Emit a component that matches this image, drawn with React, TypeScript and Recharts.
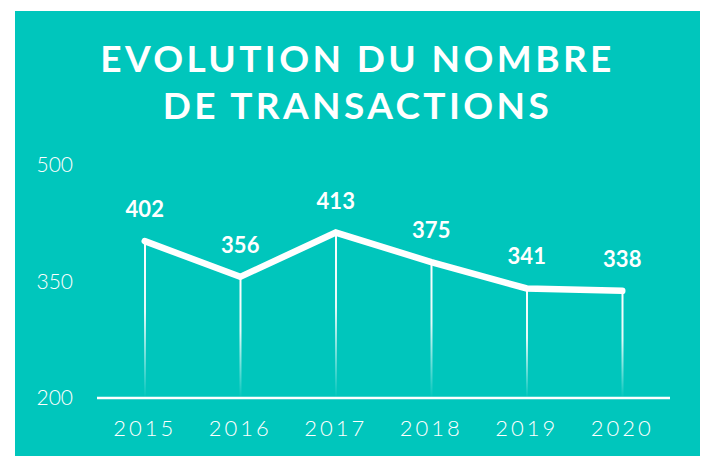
import React from 'react';
import { Bar, ComposedChart, LabelList, Line, XAxis, YAxis } from 'recharts';

const years = ['2015', '2016', '2017', '2018', '2019', '2020'];
const transactions = [402, 356, 413, 375, 341, 338];
const yTicks = [200, 350, 500];

const data = years.map((year, i) => ({ year, value: transactions[i] }));

const TEAL = '#00C6BC';
const FONT = 'Lato, "Open Sans", sans-serif';

export default function App() {
  return (
    <div style={{ position: 'absolute', left: 0, top: 0, width: 702, height: 456, background: '#fff', overflow: 'hidden' }}>
      <div style={{ position: 'absolute', left: 15, top: 11, width: 685, height: 445, background: TEAL }} />

      {/* Title */}
      <div
        style={{
          position: 'absolute',
          left: 15,
          top: 34,
          width: 685,
          textAlign: 'center',
          color: '#fff',
          fontFamily: FONT,
          fontWeight: 700,
          fontSize: 37,
          lineHeight: '47px',
          letterSpacing: 3.4,
        }}
      >
        EVOLUTION DU NOMBRE
        <br />
        DE TRANSACTIONS
      </div>

      <div style={{ position: 'absolute', left: 0, top: 0 }}>
        <ComposedChart width={702} height={456} data={data} margin={{ top: 165, right: 32, bottom: 28, left: 0 }}>
          <defs>
            <linearGradient id="dropFade" x1="0" y1="0" x2="0" y2="1">
              <stop offset="0%" stopColor="#fff" stopOpacity={1} />
              <stop offset="45%" stopColor="#fff" stopOpacity={0.9} />
              <stop offset="100%" stopColor="#fff" stopOpacity={0} />
            </linearGradient>
          </defs>
          <XAxis
            dataKey="year"
            axisLine={{ stroke: '#fff', strokeWidth: 2.5 }}
            tickLine={false}
            tickMargin={16}
            height={30}
            tick={{ fill: '#fff', fontSize: 22, fontFamily: FONT, fontWeight: 300, letterSpacing: 3 }}
          />
          <YAxis
            domain={[200, 500]}
            ticks={yTicks}
            width={97}
            axisLine={false}
            tickLine={false}
            tickMargin={18}
            tick={{ fill: '#fff', fontSize: 21, fontFamily: FONT, fontWeight: 300 }}
          />
          <Bar dataKey="value" barSize={2} fill="url(#dropFade)" isAnimationActive={false} />
          <Line
            dataKey="value"
            stroke="#fff"
            strokeWidth={6.5}
            strokeLinecap="round"
            dot={false}
            activeDot={false}
            isAnimationActive={false}
          >
            <LabelList
              dataKey="value"
              position="top"
              offset={24}
              fill="#fff"
              fontSize={22}
              fontWeight={700}
              fontFamily={FONT}
            />
          </Line>
        </ComposedChart>
      </div>
    </div>
  );
}
